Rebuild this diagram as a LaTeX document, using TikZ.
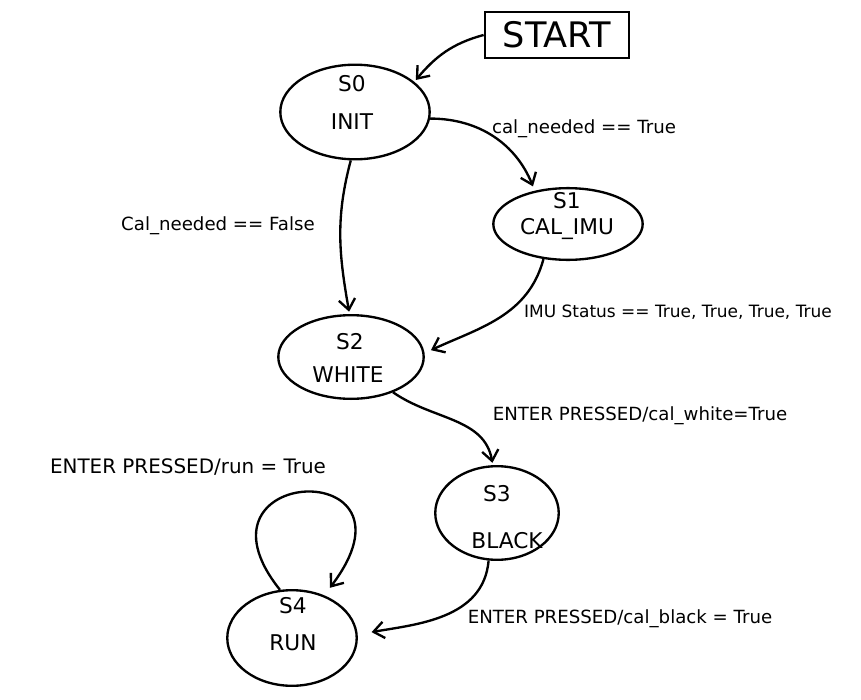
\documentclass[tikz,border=0pt]{standalone}
\usepackage{fontspec}
\setmainfont{DejaVu Sans}
\usetikzlibrary{shapes.geometric,arrows.meta}
\tikzset{
  statebox/.style={draw, ellipse, line width=2pt},
  conn/.style={line width=2pt, -{Straight Barb[length=9pt,width=14pt,line width=2pt]}, shorten >=2pt},
  lbl/.style={font=\fontsize{15.5}{17}\selectfont},
  stxt/.style={font=\fontsize{18.5}{20}\selectfont}
}
\begin{document}
\begin{tikzpicture}[x=0.03cm, y=-0.03cm]
\useasboundingbox (0,0) rectangle (861,700);
% start box
\node[draw, line width=2pt, minimum width=145*0.85pt, minimum height=46*0.85pt, font=\fontsize{30}{32}\selectfont] (start) at (557,35) {START};
% states
\node[statebox, minimum width=150*0.85pt, minimum height=95*0.85pt] (s0) at (355,112) {};
\node[stxt] (s0a) at (352,84) {S0};
\node[stxt] (s0b) at (352,122) {INIT};
\node[statebox, minimum width=150*0.85pt, minimum height=72*0.85pt] (s1) at (568,224) {};
\node[stxt] (s1a) at (567,201) {S1};
\node[stxt] (s1b) at (567,229) {CAL\_IMU};
\node[statebox, minimum width=146*0.85pt, minimum height=84*0.85pt] (s2) at (351,357) {};
\node[stxt] (s2a) at (350,342) {S2};
\node[stxt] (s2b) at (348,375) {WHITE};
\node[statebox, minimum width=124*0.85pt, minimum height=94*0.85pt] (s3) at (497,513) {};
\node[stxt] (s3a) at (497,494) {S3};
\node[stxt] (s3b) at (507,541) {BLACK};
\node[statebox, minimum width=130*0.85pt, minimum height=96*0.85pt] (s4) at (292,638) {};
\node[stxt] (s4a) at (293,606) {S4};
\node[stxt] (s4b) at (293,643) {RUN};
% labels
\node[lbl] (l1) at (584,129) {cal\_needed == True};
\node[lbl] (l2) at (218,226) {Cal\_needed == False};
\node[lbl, font=\fontsize{14.5}{17}\selectfont] (l3) at (678,312) {IMU Status == True, True, True, True};
\node[lbl] (l4) at (640,416) {ENTER PRESSED/cal\_white=True};
\node[lbl, font=\fontsize{17}{19}\selectfont] (l5) at (188,467) {ENTER PRESSED/run = True};
\node[lbl] (l6) at (620,619) {ENTER PRESSED/cal\_black = True};
% connectors
\draw[conn] (start.west) to[out=195, in=50] (s0.27);
\draw[conn, shorten >=4pt] (s0.-5) to[out=0, in=112] (s1.135);
\draw[conn] (s0.-95) to[out=-105, in=100] (s2.92);
\draw[conn, shorten >=6pt] (s1.-125) to[out=-105, in=25] (s2.3);
\draw[conn] (s2.-40) to[out=-35, in=100] (s3.95);
\draw[conn, shorten >=12pt] (s3.-100) to[out=-95, in=10] (s4.3);
\draw[conn, shorten >=8pt] (s4.104) .. controls +(-100,-125) and +(107,-141) .. (s4.53);
\end{tikzpicture}
\end{document}
